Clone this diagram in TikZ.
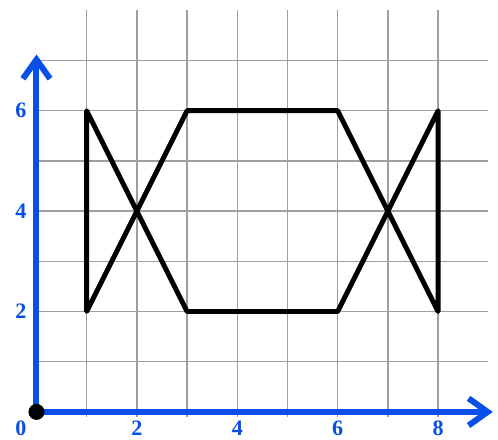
\documentclass[tikz,border=0pt]{standalone}
\usepackage{fontspec}
\setmainfont{Liberation Serif}
\usetikzlibrary{arrows.meta}
\definecolor{axisblue}{RGB}{8,78,232}

\begin{document}
\begin{tikzpicture}[
      gridline/.style={draw=gray!75, line width=0.8pt},
      axis/.style={draw=axisblue, line width=3.4pt,
                   -{Straight Barb[length=3.8mm, width=5.4mm]}},
      outline/.style={draw=black, line width=2.8pt, line join=round},
      tick/.style={text=axisblue, inner sep=0pt,
                   font=\fontsize{12.5}{14}\selectfont\bfseries},
      dot/.style={circle, fill=black, minimum size=3.2mm, inner sep=0pt},
    ]
    \useasboundingbox (-0.727,-0.54) rectangle (9.193,8.205);

    % grid
    \foreach \y in {1,...,7}
      \draw[gridline] (0,\y) -- (9,\y);
    \foreach \x in {1,...,8}
      \draw[gridline] (\x,-0.1) -- (\x,8);

    % axes
    \coordinate (o) at (0,0);
    \coordinate (xend) at (9.09,0);
    \coordinate (yend) at (0,7.12);
    \draw[axis] (o) -- (xend);
    \draw[axis] (o) -- (yend);
    \node[dot] (origin) at (o) {};

    % labels
    \node[tick] (xl0) at (-0.31,-0.32) {0};
    \foreach \x in {2,4,6,8}
      \node[tick] (xl\x) at (\x,-0.32) {\x};
    \foreach \y in {2,4,6}
      \node[tick] (yl\y) at (-0.31,\y) {\y};

    % the figure
    \coordinate (a) at (1,2);
    \coordinate (b) at (1,6);
    \coordinate (c) at (3,2);
    \coordinate (d) at (6,2);
    \coordinate (e) at (8,6);
    \coordinate (f) at (8,2);
    \coordinate (g) at (6,6);
    \coordinate (h) at (3,6);
    \draw[outline] (a) -- (b) -- (c) -- (d) -- (e) -- (f) -- (g) -- (h) -- cycle;
  \end{tikzpicture}
\end{document}
